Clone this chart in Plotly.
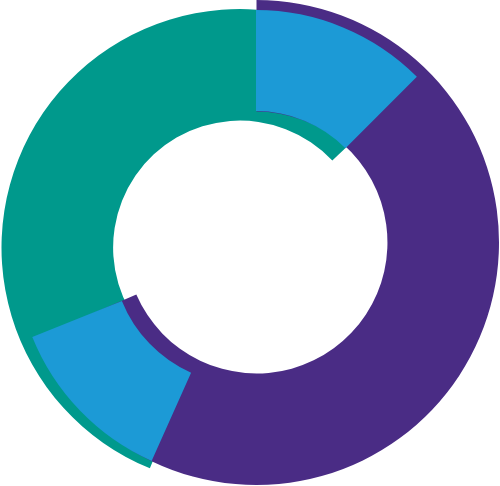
import plotly.graph_objects as go

# Segment shares (percent of the full circle), clockwise from 12 o'clock
segment_labels = ['Blue A', 'Purple', 'Blue B', 'Teal']
segment_values = [12.5, 44.2, 12.2, 31.1]

# Background bands that run underneath the blue segments
purple_band = [68.5, 31.5]      # purple, gap
teal_band = [56.8, 43.2]        # teal, gap
teal_start = -157.8             # degrees, clockwise from 12 o'clock

TEAL = '#00998C'
PURPLE = '#4A2C85'
BLUE = '#1C9AD6'
CLEAR = 'rgba(0,0,0,0)'

W, H = 500, 486


def dom(cx, cy, r):
    # pixel centre/radius -> paper domain
    return dict(x=[(cx - r) / W, (cx + r) / W],
                y=[(H - cy - r) / H, (H - cy + r) / H])


def band(values, colors, rotation, hole, domain, labels=None):
    return go.Pie(
        labels=labels, values=values, sort=False, direction='clockwise',
        rotation=rotation, hole=hole, domain=domain,
        marker=dict(colors=colors, line=dict(width=0)),
        textinfo='none', hoverinfo='skip')


fig = go.Figure()

# teal band (bottom layer)
fig.add_trace(band(teal_band, [TEAL, CLEAR], teal_start, 0.532,
                   dom(240, 247.5, 238.5)))

# purple band on top of it
fig.add_trace(band(purple_band, [PURPLE, CLEAR], 0, 0.54,
                   dom(256.5, 242.5, 242.5)))

# the two blue segments, each drawn slightly off-centre
fig.add_trace(band(segment_values, [BLUE, CLEAR, CLEAR, CLEAR], 0, 0.556,
                   dom(256, 237.6, 227.5), labels=segment_labels))
fig.add_trace(band(segment_values, [CLEAR, CLEAR, BLUE, CLEAR], 0, 0.58,
                   dom(245.6, 251, 230), labels=segment_labels))

fig.update_layout(
    width=W, height=H,
    margin=dict(l=0, r=0, t=0, b=0),
    paper_bgcolor='white',
    showlegend=False,
)

fig.write_html("out.html", config={'displayModeBar': False},
               post_script="document.body.style.margin='0';")
